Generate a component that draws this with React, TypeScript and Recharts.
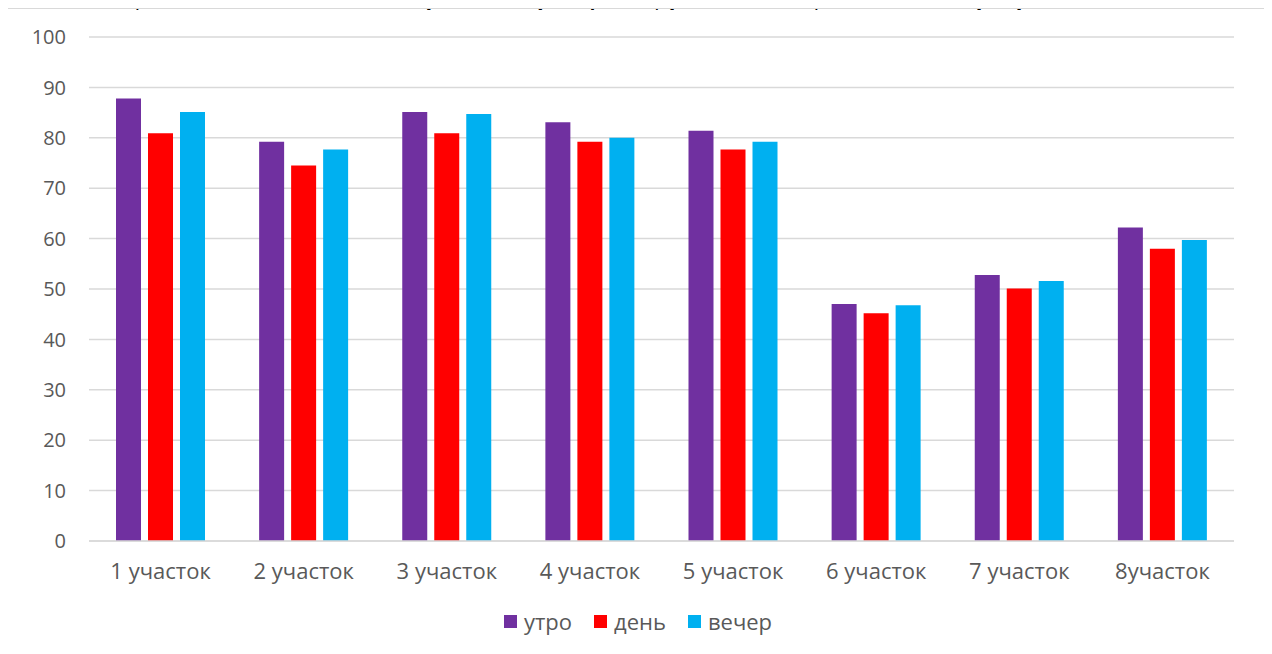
import { BarChart, Bar, XAxis, YAxis, CartesianGrid } from 'recharts';

const categories = [
  '1 участок',
  '2 участок',
  '3 участок',
  '4 участок',
  '5 участок',
  '6 участок',
  '7 участок',
  '8участок',
];

const morning = [87.8, 79.2, 85.1, 83.1, 81.4, 47.0, 52.8, 62.2];
const day = [80.9, 74.5, 80.9, 79.2, 77.7, 45.2, 50.1, 58.0];
const evening = [85.1, 77.7, 84.7, 80.0, 79.2, 46.8, 51.6, 59.7];

const yTicks = [0, 10, 20, 30, 40, 50, 60, 70, 80, 90, 100];

const seriesKeys = ['morning', 'day', 'evening'];
const seriesNames = ['утро', 'день', 'вечер'];
const seriesColors = ['#7030A0', '#FF0000', '#00B0F0'];

const data = categories.map((name, i) => ({
  name,
  morning: morning[i],
  day: day[i],
  evening: evening[i],
}));

const FONT = '"Open Sans", sans-serif';
const TEXT_GRAY = '#595959';

// легенда как в Excel: квадратик + подпись
function ExcelLegend() {
  return (
    <div
      style={{
        position: 'absolute',
        left: 2,
        top: 606,
        width: 1272,
        height: 30,
        display: 'flex',
        justifyContent: 'center',
        alignItems: 'center',
        fontFamily: FONT,
        fontSize: 22,
        lineHeight: '30px',
        color: TEXT_GRAY,
      }}
    >
      {seriesNames.map((name, i) => (
        <div
          key={name}
          style={{ display: 'flex', alignItems: 'center', margin: '0 11px' }}
        >
          <span
            style={{
              width: 13,
              height: 13,
              background: seriesColors[i],
              marginRight: 7,
              display: 'inline-block',
            }}
          />
          <span>{name}</span>
        </div>
      ))}
    </div>
  );
}

export default function App() {
  return (
    <div
      style={{
        position: 'relative',
        width: 1272,
        height: 654,
        margin: -8,
        overflow: 'hidden',
        background: '#fff',
      }}
    >
      {/* подпись рисунка: на скриншоте видна только нижняя полоска */}
      <svg
        width={1272}
        height={10}
        style={{ position: 'absolute', left: 0, top: 0 }}
      >
        <text
          x={638}
          y={7}
          textAnchor="middle"
          fontFamily='"Liberation Serif", serif'
          fontSize={40}
          fill="#000"
        >
          Рисунок 2 - Участки регистрации уровня шума в микрорайоне Уно
        </text>
      </svg>

      {/* рамка области диаграммы */}
      <div
        style={{
          position: 'absolute',
          left: 5,
          top: 7,
          width: 1258,
          height: 700,
          border: '2px solid #d9d9d9',
        }}
      />

      <div style={{ position: 'absolute', left: 0, top: 0 }}>
        <BarChart
          width={1272}
          height={654}
          data={data}
          margin={{ top: 37, right: 38, left: 0, bottom: 83 }}
          barCategoryGap={27}
          barGap={7}
        >
          <CartesianGrid vertical={false} stroke="#d9d9d9" strokeWidth={1.5} />
          <XAxis
            dataKey="name"
            tickLine={false}
            tickSize={0}
            tickMargin={22}
            axisLine={{ stroke: '#d9d9d9', strokeWidth: 1.5 }}
            tick={{ fill: TEXT_GRAY, fontSize: 22, fontFamily: FONT }}
            interval={0}
          />
          <YAxis
            width={89}
            domain={[0, 100]}
            ticks={yTicks}
            tickLine={false}
            tickSize={0}
            tickMargin={23}
            axisLine={false}
            tick={{ fill: TEXT_GRAY, fontSize: 20, fontFamily: FONT }}
          />
          {seriesKeys.map((key, i) => (
            <Bar
              key={key}
              dataKey={key}
              name={seriesNames[i]}
              fill={seriesColors[i]}
              isAnimationActive={false}
            />
          ))}
        </BarChart>
      </div>

      <ExcelLegend />
    </div>
  );
}
